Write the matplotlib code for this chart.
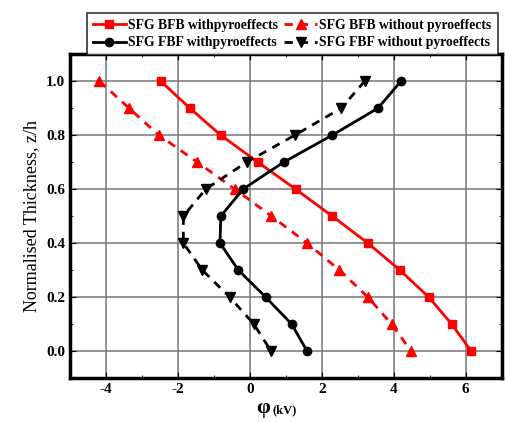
import matplotlib
matplotlib.use("Agg")
import matplotlib.pyplot as plt
from matplotlib.ticker import MultipleLocator

plt.rcParams["font.family"] = ["Liberation Serif", "DejaVu Serif"]
plt.rcParams["axes.unicode_minus"] = False

z = [1.0, 0.9, 0.8, 0.7, 0.6, 0.5, 0.4, 0.3, 0.2, 0.1, 0.0]
bfb_with = [-2.48, -1.67, -0.81, 0.22, 1.27, 2.29, 3.28, 4.17, 4.97, 5.61, 6.15]
bfb_without = [-4.18, -3.36, -2.53, -1.46, -0.42, 0.60, 1.59, 2.49, 3.28, 3.94, 4.48]
fbf_with = [4.20, 3.56, 2.29, 0.94, -0.19, -0.81, -0.83, -0.32, 0.44, 1.16, 1.59]
fbf_without = [3.19, 2.54, 1.25, -0.09, -1.23, -1.85, -1.85, -1.32, -0.56, 0.11, 0.59]

labels = ["SFG BFB withpyroeffects", "SFG BFB without pyroeffects",
          "SFG FBF withpyroeffects", "SFG FBF without pyroeffects"]

fig = plt.figure(figsize=(5.05, 4.23), dpi=100)
ax = fig.add_axes([0.1386, 0.106, 0.855, 0.766])

l1, = ax.plot(bfb_with, z, color="red", ls="-", lw=2, marker="s", ms=6)
l2, = ax.plot(bfb_without, z, color="red", ls=(0, (3, 2.5)), lw=2, marker="^", ms=6.5)
l3, = ax.plot(fbf_with, z, color="black", ls="-", lw=2, marker="o", ms=6)
l4, = ax.plot(fbf_without, z, color="black", ls=(0, (3, 2.5)), lw=2, marker="v", ms=6.5)

ax.set_xlim(-5, 7)
ax.set_ylim(-0.1, 1.1)
ax.xaxis.set_minor_locator(MultipleLocator(1))
ax.yaxis.set_minor_locator(MultipleLocator(0.1))
ax.grid(True, which="major", color="#808080", lw=1.2)
ax.set_axisbelow(True)
ax.tick_params(which="both", direction="in", top=True, right=True, labelsize=11)
ax.tick_params(which="major", length=4)
ax.tick_params(which="minor", length=2.5)
ax.set_xticks([-4, -2, 0, 2, 4, 6])
ax.set_xticklabels(["-4", "-2", "0", "2", "4", "6"], fontweight="bold")
ax.set_yticks([0.0, 0.2, 0.4, 0.6, 0.8, 1.0])
ax.set_yticklabels(["0.0", "0.2", "0.4", "0.6", "0.8", "1.0"], fontweight="bold")
for s in ax.spines.values():
    s.set_linewidth(2.5)

ax.set_ylabel("Normalised Thickness, z/h", fontsize=13, labelpad=4)
fig.text(0.535, 0.012, "φ", fontsize=16, fontweight="bold", ha="right", va="bottom")
fig.text(0.54, 0.016, "(kV)", fontsize=9, fontweight="bold", ha="left", va="bottom")

# row-wise order like the original legend
leg = fig.legend([l1, l3, l2, l4], [labels[0], labels[2], labels[1], labels[3]],
                 ncol=2, loc="upper left", bbox_to_anchor=(0.172, 0.969),
                 prop={"weight": "bold", "size": 9.8},
                 frameon=True, fancybox=False, edgecolor="black",
                 handlelength=2.4, handletextpad=0.15, columnspacing=0.5,
                 labelspacing=0.3, borderpad=0.45, borderaxespad=0.0)
leg.get_frame().set_linewidth(1.2)

fig.savefig("out.png", dpi=100)
